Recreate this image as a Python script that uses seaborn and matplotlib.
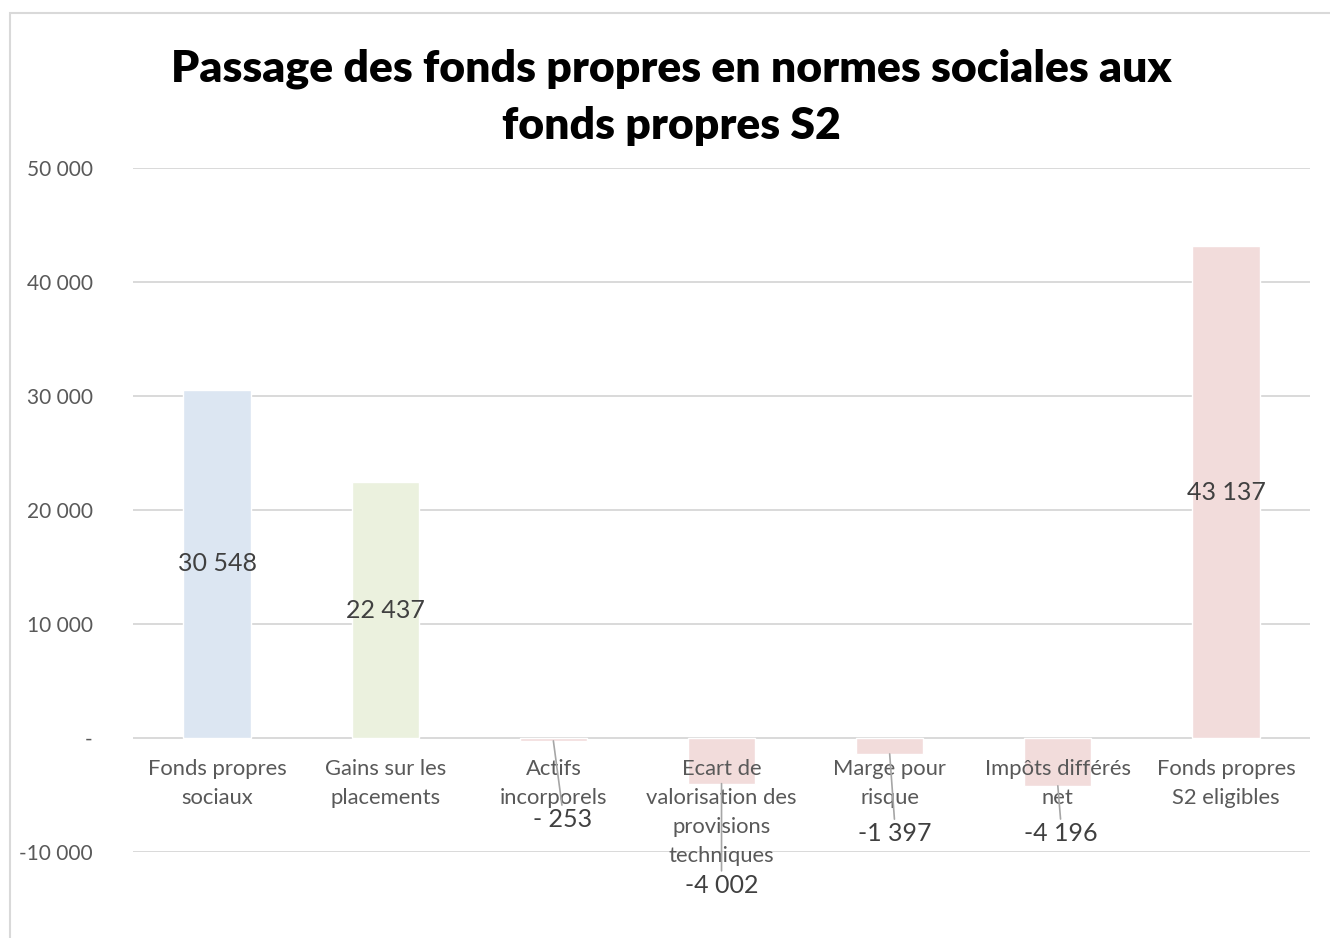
import matplotlib
matplotlib.use('Agg')
import matplotlib.pyplot as plt
import matplotlib.patches as patches
from matplotlib.ticker import FuncFormatter
import seaborn as sns

# Data
categories = ['Fonds propres\nsociaux', 'Gains sur les\nplacements', 'Actifs\nincorporels',
              'Ecart de\nvalorisation des\nprovisions\ntechniques', 'Marge pour\nrisque',
              'Impôts différés\nnet', 'Fonds propres\nS2 eligibles']
values = [30548, 22437, -253, -4002, -1397, -4196, 43137]
value_labels = ['30 548', '22 437', '- 253', '-4 002', '-1 397', '-4 196', '43 137']
bar_colors = ['#DCE6F2', '#EBF1DE', '#F2DCDB', '#F2DCDB', '#F2DCDB', '#F2DCDB', '#F2DCDB']
y_ticks = [-10000, 0, 10000, 20000, 30000, 40000, 50000]

# offsets (pixels) of the labels of negative bars, from the end of the bar
neg_label_offsets = {2: (9, -79), 3: (0, -102), 4: (5, -80), 5: (3, -48)}

sns.set_style('white')
plt.rcParams['font.family'] = ['Lato', 'DejaVu Sans']

fig = plt.figure(figsize=(13.3, 9.38), dpi=100)
ax = fig.add_axes([0.1, 1 - 852 / 938, 0.885, (852 - 168) / 938])

sns.barplot(x=categories, y=values, hue=categories, palette=bar_colors, legend=False,
            width=0.4, saturation=1, ax=ax, zorder=2)

ax.set_ylim(-10000, 50000)
ax.set_xlim(-0.5, len(categories) - 0.5)
ax.set_yticks(y_ticks)
ax.yaxis.set_major_formatter(FuncFormatter(
    lambda v, p: '-' if v == 0 else f'{int(v):,}'.replace(',', ' ')))
ax.tick_params(axis='y', length=0, pad=29, labelsize=15, labelcolor='#595959')
ax.tick_params(axis='x', length=0, labelbottom=False)
ax.set_xlabel('')
ax.set_ylabel('')
ax.grid(axis='y', color='#D9D9D9', linewidth=1.4)
ax.set_axisbelow(True)
for s in ax.spines.values():
    s.set_visible(False)

# category labels under the zero line
for i, name in enumerate(categories):
    ax.annotate(name, xy=(i, 0), xytext=(0, -21), textcoords='offset pixels',
                ha='center', va='top', fontsize=15.8, color='#595959',
                linespacing=1.56, zorder=5, annotation_clip=False)

# value labels
for i, (v, lab) in enumerate(zip(values, value_labels)):
    if v >= 0:
        ax.text(i, v / 2, lab, ha='center', va='center', fontsize=18,
                color='#404040', zorder=6)
    else:
        dx, dy = neg_label_offsets[i]
        ax.annotate(lab, xy=(i, v), xytext=(dx, dy), textcoords='offset pixels',
                    ha='center', va='center', fontsize=18, color='#404040',
                    annotation_clip=False, zorder=6,
                    arrowprops=dict(arrowstyle='-', color='#A6A6A6', lw=1.2,
                                    shrinkA=0, shrinkB=0, relpos=(0.5, 1)))

fig.text(0.505, 1 - 97 / 938,
         'Passage des fonds propres en normes sociales aux\nfonds propres S2',
         ha='center', va='center', fontsize=32, fontweight='heavy', color='black',
         linespacing=1.5)

# chart border
fig.patches.append(patches.Rectangle((10 / 1330, -0.1), 1.2, 1 - 13 / 938 + 0.1,
                                     transform=fig.transFigure, fill=False,
                                     edgecolor='#D9D9D9', linewidth=1.5))

fig.savefig('out.png', dpi=100)
